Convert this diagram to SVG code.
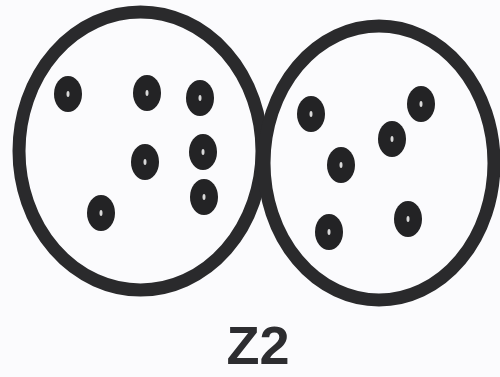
<svg xmlns="http://www.w3.org/2000/svg" width="500" height="377" viewBox="0 0 500 377">
<style>
.ring{fill:none;stroke:#2a2a2c;stroke-width:13}
.dot{fill:#232325}
.hl{fill:#d8d8d8}
.lbl{font-family:"Liberation Sans",Arial,sans-serif;font-weight:bold;font-size:54px;fill:#2d2d30;text-anchor:middle}
</style>
<rect width="500" height="377" fill="#fbfbfd"/>
<g id="set-left">
<ellipse class="ring" cx="140.5" cy="151" rx="121.5" ry="139"/>
<g id="dots-left">
<ellipse class="dot" cx="68" cy="94" rx="14" ry="18"/><ellipse class="hl" cx="68" cy="94" rx="1.5" ry="3"/>
<ellipse class="dot" cx="147" cy="93" rx="14" ry="18"/><ellipse class="hl" cx="147" cy="93" rx="1.5" ry="3"/>
<ellipse class="dot" cx="200" cy="98" rx="14" ry="18"/><ellipse class="hl" cx="200" cy="98" rx="1.5" ry="3"/>
<ellipse class="dot" cx="145" cy="162" rx="14" ry="18"/><ellipse class="hl" cx="145" cy="162" rx="1.5" ry="3"/>
<ellipse class="dot" cx="203" cy="152" rx="14" ry="18"/><ellipse class="hl" cx="203" cy="152" rx="1.5" ry="3"/>
<ellipse class="dot" cx="204" cy="197" rx="14" ry="18"/><ellipse class="hl" cx="204" cy="197" rx="1.5" ry="3"/>
<ellipse class="dot" cx="101" cy="213" rx="14" ry="18"/><ellipse class="hl" cx="101" cy="213" rx="1.5" ry="3"/>
</g>
</g>
<g id="set-right">
<ellipse class="ring" cx="379" cy="163" rx="115" ry="137"/>
<g id="dots-right">
<ellipse class="dot" cx="311" cy="114" rx="14" ry="18"/><ellipse class="hl" cx="311" cy="114" rx="1.5" ry="3"/>
<ellipse class="dot" cx="421" cy="104" rx="14" ry="18"/><ellipse class="hl" cx="421" cy="104" rx="1.5" ry="3"/>
<ellipse class="dot" cx="392" cy="139" rx="14" ry="18"/><ellipse class="hl" cx="392" cy="139" rx="1.5" ry="3"/>
<ellipse class="dot" cx="341" cy="165" rx="14" ry="18"/><ellipse class="hl" cx="341" cy="165" rx="1.5" ry="3"/>
<ellipse class="dot" cx="329" cy="232" rx="14" ry="18"/><ellipse class="hl" cx="329" cy="232" rx="1.5" ry="3"/>
<ellipse class="dot" cx="408" cy="219" rx="14" ry="18"/><ellipse class="hl" cx="408" cy="219" rx="1.5" ry="3"/>
</g>
</g>
<text class="lbl" x="258" y="364">Z2</text>
</svg>
